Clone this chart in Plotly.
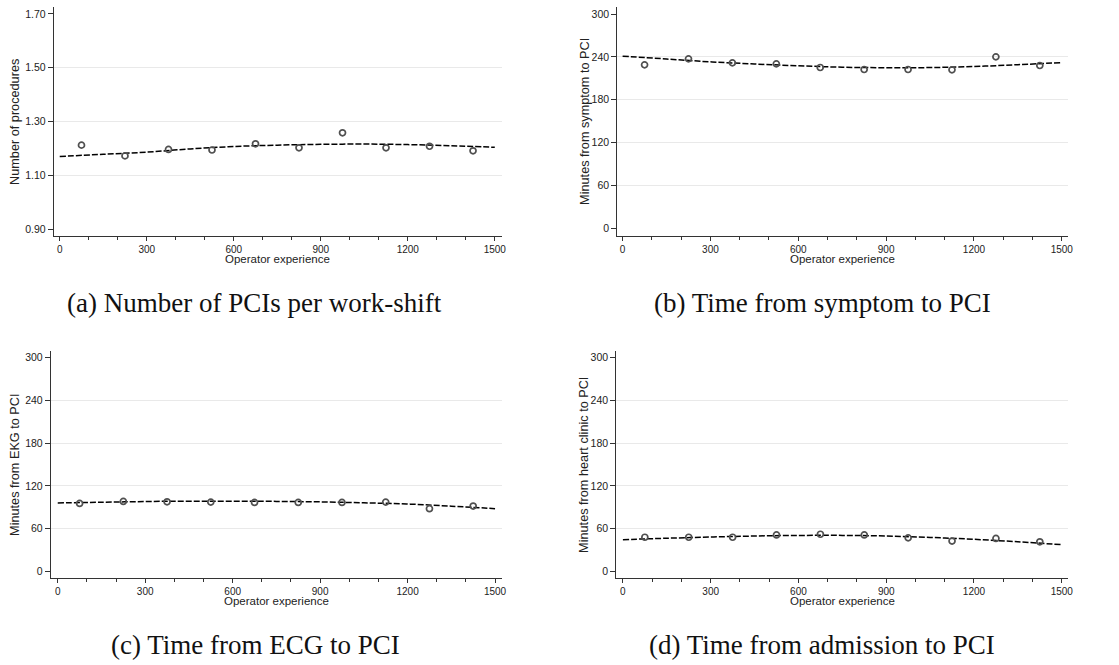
import plotly.graph_objects as go

W, H = 1119, 665

# ---- data ----
bin_mid = [75, 225, 375, 525, 675, 825, 975, 1125, 1275, 1425]
fit_x = [0, 150, 300, 450, 600, 750, 900, 1050, 1200, 1350, 1500]
x_ticks = [0, 300, 600, 900, 1200, 1500]

a_points = [1.212, 1.172, 1.196, 1.194, 1.217, 1.202, 1.258, 1.202, 1.208, 1.191]
a_fit = [1.170, 1.178, 1.186, 1.198, 1.207, 1.212, 1.215, 1.216, 1.214, 1.210, 1.204]
a_yticks = [0.90, 1.10, 1.30, 1.50, 1.70]

b_points = [228.8, 237.2, 231.6, 230.2, 225.1, 222.3, 222.3, 221.8, 240.0, 227.9]
b_fit = [241, 237, 233, 230, 227.5, 225.5, 224.8, 225, 226.5, 229, 232]

c_points = [95.3, 98.1, 97.6, 97.2, 96.7, 96.7, 96.7, 97.2, 87.9, 91.6]
c_fit = [96, 97, 98, 98.5, 98.5, 98.2, 97.5, 96.2, 94.5, 91.5, 88]

d_points = [47.9, 47.9, 47.9, 51.1, 52.1, 51.1, 47.0, 42.5, 46.2, 41.5]
d_fit = [44.5, 46.5, 48.2, 49.6, 50.4, 50.5, 49.6, 47.7, 45.0, 41.5, 37.5]
min_yticks = [0, 60, 120, 180, 240, 300]

x_title = "Operator experience"
y_titles = ["Number of procedures", "Minutes from symptom to PCI",
            "Minutes from EKG to PCI", "Minutes from heart clinic to PCI"]
captions = ["(a) Number of PCIs per work-shift", "(b) Time from symptom to PCI",
            "(c) Time from ECG to PCI", "(d) Time from admission to PCI"]

# ---- layout geometry (pixels) ----
panels = [
    dict(pts=a_points, fit=a_fit, yt=a_yticks, fmt=".2f",
         px=(54, 504), py=(7, 236), xr=[-20.6, 1524], yr=[0.874, 1.726],
         ytitle_x=14.5, cap=(256, 303)),
    dict(pts=b_points, fit=b_fit, yt=min_yticks, fmt="d",
         px=(620, 1073), py=(7, 236), xr=[-18.4, 1522], yr=[-10.8, 309.8],
         ytitle_x=587, cap=(826, 303)),
    dict(pts=c_points, fit=c_fit, yt=min_yticks, fmt="d",
         px=(51, 504), py=(351, 578), xr=[-23.9, 1523], yr=[-9.3, 309.2],
         ytitle_x=14.5, cap=(257, 645)),
    dict(pts=d_points, fit=d_fit, yt=min_yticks, fmt="d",
         px=(619, 1073), py=(351, 578), xr=[-22.8, 1522], yr=[-9.3, 309.2],
         ytitle_x=586, cap=(826, 645)),
]

fig = go.Figure()
annotations = []
AX = "#333333"
TICKFONT = dict(family="Liberation Sans, Arial, sans-serif", size=10, color="#222222")

for i, p in enumerate(panels):
    n = "" if i == 0 else str(i + 1)
    xa, ya = "x" + n, "y" + n
    fig.add_trace(go.Scatter(
        x=fit_x, y=p["fit"], xaxis=xa, yaxis=ya, mode="lines",
        line=dict(color="black", width=1.5, dash="6px,2px", shape="spline"),
        showlegend=False, hoverinfo="skip"))
    fig.add_trace(go.Scatter(
        x=bin_mid, y=p["pts"], xaxis=xa, yaxis=ya, mode="markers",
        marker=dict(symbol="circle-open", size=6, color="#505050",
                    line=dict(width=1.7, color="#505050")),
        showlegend=False))

    x0, x1 = p["px"]
    y0, y1 = p["py"]
    interior = p["yt"][1:-1]
    fig.update_layout(**{
        "xaxis" + n: dict(
            domain=[x0 / W, x1 / W], anchor=ya, range=p["xr"],
            tickvals=x_ticks, ticks="outside", ticklen=4, tickwidth=1, tickcolor=AX,
            showline=True, linecolor=AX, linewidth=1, showgrid=False, zeroline=False,
            tickfont=TICKFONT,
            minor=dict(dtick=100, tick0=0, ticks="outside", ticklen=3, tickcolor=AX, showgrid=False),
        ),
        "yaxis" + n: dict(
            domain=[1 - y1 / H, 1 - y0 / H], anchor=xa, range=p["yr"],
            tickvals=p["yt"], tickformat=p["fmt"], ticks="outside", ticklen=5,
            tickwidth=1, tickcolor=AX, showline=True, linecolor=AX, linewidth=1,
            showgrid=False, zeroline=False, tickfont=dict(TICKFONT, size=10.5),
            minor=dict(tickvals=interior, showgrid=True, gridcolor="#e9e9e9",
                       gridwidth=1, ticks="", ticklen=0),
        ),
    })
    # axis titles
    annotations.append(dict(
        text=x_title, xref="paper", yref="paper",
        x=((x0 + x1) / 2) / W, y=1 - (y1 + 23) / H,
        xanchor="center", yanchor="middle", showarrow=False,
        font=dict(family="Liberation Sans, Arial, sans-serif", size=11.5, color="#222222")))
    annotations.append(dict(
        text=y_titles[i], xref="paper", yref="paper",
        x=p["ytitle_x"] / W, y=1 - ((y0 + y1) / 2) / H, textangle=-90,
        xanchor="center", yanchor="middle", showarrow=False,
        font=dict(family="Liberation Sans, Arial, sans-serif", size=12.7, color="#222222")))
    annotations.append(dict(
        text=captions[i], xref="paper", yref="paper",
        x=p["cap"][0] / W, y=1 - p["cap"][1] / H,
        xanchor="center", yanchor="middle", showarrow=False,
        font=dict(family="Liberation Serif, serif", size=27, color="#111111")))

fig.update_layout(
    width=W, height=H, margin=dict(l=0, r=0, t=0, b=0),
    paper_bgcolor="white", plot_bgcolor="white",
    annotations=annotations, showlegend=False,
)

fig.write_html("out.html", config={"displayModeBar": False},
               post_script="document.body.style.margin='0px';document.body.style.overflow='hidden';")
